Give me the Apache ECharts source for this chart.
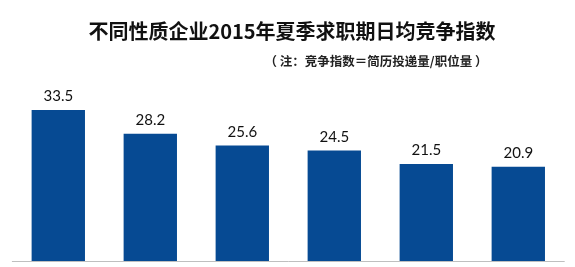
<!DOCTYPE html>
<html><head><meta charset="utf-8">
<script src="https://cdn.jsdelivr.net/npm/echarts@6/dist/echarts.min.js"></script>
<style>html,body{margin:0;padding:0;background:#fff}#c{width:575px;height:267px}</style>
</head><body><div id="c"></div>
<script>
const categories = ['A','B','C','D','E','F'];
const values = [33.5, 28.2, 25.6, 24.5, 21.5, 20.9];
const titleText = '不同性质企业2015年夏季求职期日均竞争指数';
const noteText = '（ 注：竞争指数＝简历投递量/职位量 ）';

const chart = echarts.init(document.getElementById('c'));
chart.setOption({
  animation: false,
  title: [
    { text: titleText, left: 287, top: 16, textAlign: 'center',
      textStyle: { fontFamily: 'Noto Sans CJK SC', fontWeight: 'bold', fontSize: 20, color: '#111' } },
    { text: noteText, left: 371, top: 50, textAlign: 'center',
      textStyle: { fontFamily: 'Noto Sans CJK SC', fontWeight: 'bold', fontSize: 12.5, color: '#222' } }
  ],
  grid: { left: 12.3, right: 10.7, top: 80.6, bottom: 6 },
  xAxis: { type: 'category', data: categories,
    axisLine: { lineStyle: { color: '#bfbfbf', width: 1 } },
    axisTick: { show: false }, axisLabel: { show: false } },
  yAxis: { type: 'value', min: 0, max: 40, show: false, splitLine: { show: false } },
  series: [{
    type: 'bar', data: values, barWidth: '58%',
    itemStyle: { color: '#064a93' },
    label: { show: true, position: 'top', distance: 6, formatter: p => p.value.toFixed(1),
      fontFamily: 'Lato', fontSize: 15, color: '#111' }
  }]
});
</script></body></html>
